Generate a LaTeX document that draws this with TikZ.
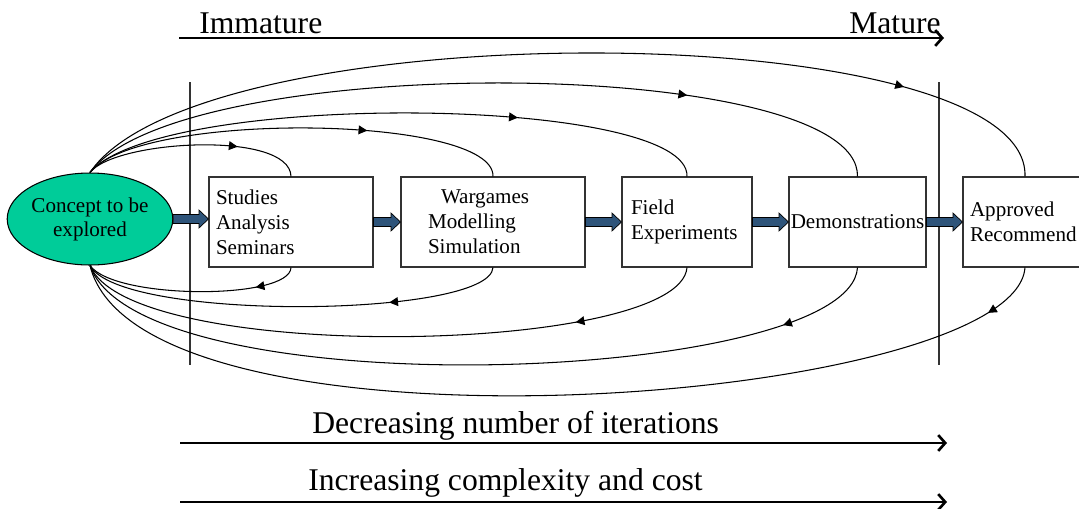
\documentclass[tikz,border=0pt]{standalone}
\usepackage{fontspec}
\setmainfont{Liberation Serif}
\usetikzlibrary{arrows.meta,calc,decorations.markings,shapes.geometric}

\definecolor{conceptgreen}{RGB}{0,204,153}
\definecolor{flowblue}{RGB}{46,84,122}

\tikzset{
	stage/.style={draw=black!80, line width=0.6pt, minimum height=1.8cm, font=\fontsize{12}{14.2}\selectfont},
	flow/.style={draw=black, line width=0.4pt, fill=flowblue,
		to path={let \p1=(\tikztostart), \p2=(\tikztotarget) in
			(\x1,\y1+2.6pt) -- (\x2-5.4pt,\y1+2.6pt) -- (\x2-5.4pt,\y1+5.1pt) -- (\x2,\y1)
			-- (\x2-5.4pt,\y1-5.1pt) -- (\x2-5.4pt,\y1-2.6pt) -- (\x1,\y1-2.6pt) -- cycle}},
	iterate/.style={line width=0.6pt, postaction={decorate},
		decoration={markings, mark=at position #1 with {\arrow{Triangle[length=5pt,width=5pt]}}}},
	scalearrow/.style={line width=1.5pt, -{Straight Barb[length=4pt,width=9pt]}},
	divider/.style={line width=0.6pt, draw=black!80},
	bigtext/.style={font=\fontsize{18}{20}\selectfont, inner sep=0pt}
}

\begin{document}
\begin{tikzpicture}[x=0.02cm,y=-0.02cm]
	\clip (0,0) rectangle (1079,508);
	
	% maturity scale
	\coordinate (imm) at (179,38);
	\coordinate (mat) at (944,38);
	\draw[scalearrow] (imm) -- (mat);
	\node[bigtext, anchor=base west] (immature) at (199,33) {Immature};
	\node[bigtext, anchor=base east] (mature) at (941,33) {Mature};
	
	% dividers
	\coordinate (divAtop) at (190,82);
	\coordinate (divAbot) at (190,365);
	\coordinate (divBtop) at (939,82);
	\coordinate (divBbot) at (939,365);
	\draw[divider] (divAtop) -- (divAbot);
	\draw[divider] (divBtop) -- (divBbot);
	
	% concept and stages
	\node[ellipse, draw, line width=0.6pt, fill=conceptgreen, minimum width=3.2cm, minimum height=1.84cm,
		inner sep=0pt, align=center, font=\fontsize{12}{13.6}\selectfont] (concept) at (90,219) {Concept to be\\explored};
	\node[stage, text width=3.0cm, inner xsep=0.14cm, align=left] (studies) at (291,222) {Studies\\Analysis\\Seminars};
	\node[stage, text width=2.6cm, inner xsep=0.54cm, align=left] (wargames) at (493,222) {\hspace*{0.26cm}Wargames\\Modelling\\Simulation};
	\node[stage, text width=2.24cm, inner xsep=0.18cm, align=left] (field) at (687,222) {Field\\Experiments};
	\node[stage, text width=2.7cm, inner xsep=0.02cm, align=center] (demos) at (857.5,222) {Demonstrations};
	\node[stage, text width=2.2cm, inner xsep=0.14cm, align=left] (approved) at (1025,222) {Approved\\Recommend};
	
	\draw[flow] (concept.east) to (studies.west);
	\draw[flow] (studies.east) to (wargames.west);
	\draw[flow] (wargames.east) to (field.west);
	\draw[flow] (field.east) to (demos.west);
	\draw[flow] (demos.east) to (approved.west);
	
	% iterations out
	\draw[iterate=0.70] (concept.north) .. controls (115,140) and (290,130) .. (studies.north);
	\draw[iterate=0.67] (concept.north) .. controls (140,110) and (495,115) .. (wargames.north);
	\draw[iterate=0.70] (concept.north) .. controls (160,90) and (690,95) .. (field.north);
	\draw[iterate=0.755] (concept.north) .. controls (180,50) and (860,55) .. (demos.north);
	\draw[iterate=0.84] (concept.north) .. controls (200,10) and (1030,15) .. (approved.north);
	
	% iterations back
	\draw[iterate=0.2] (studies.south) .. controls (290,300) and (115,300) .. (concept.south);
	\draw[iterate=0.27] (wargames.south) .. controls (490,318) and (120,322) .. (concept.south);
	\draw[iterate=0.205] (field.south) .. controls (680,355) and (130,365) .. (concept.south);
	\draw[iterate=0.12] (demos.south) .. controls (850,385) and (140,410) .. (concept.south);
	\draw[iterate=0.06] (approved.south) .. controls (1015,405) and (140,470) .. (concept.south);
	
	% bottom scales
	\coordinate (itstart) at (180,443);
	\coordinate (itend) at (947,443);
	\draw[scalearrow] (itstart) -- (itend);
	\node[bigtext, anchor=base west] (iterations) at (312,433) {Decreasing number of iterations};
	\coordinate (coststart) at (180,502);
	\coordinate (costend) at (947,502);
	\draw[scalearrow] (coststart) -- (costend);
	\node[bigtext, anchor=base west] (cost) at (308,490) {Increasing complexity and cost};
\end{tikzpicture}
\end{document}
